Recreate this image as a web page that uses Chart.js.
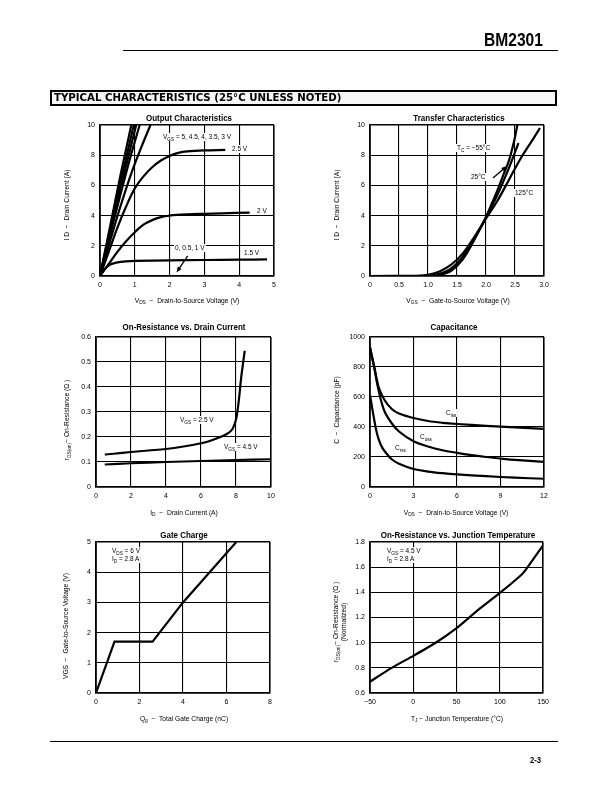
<!DOCTYPE html>
<html>
<head>
<meta charset="utf-8">
<script src="https://cdn.jsdelivr.net/npm/chart.js@4.4.1/dist/chart.umd.min.js"></script>
<style>
body { margin: 0; width: 612px; height: 792px; position: relative; background: #fff; color: #000;
       font-family: 'Liberation Sans', Arial, sans-serif; overflow: hidden; }
.abs { position: absolute; white-space: nowrap; filter: grayscale(100%); }
canvas { position: absolute; }
.t  { font-family: 'Liberation Sans', Arial, sans-serif; font-weight: bold;
      font-size: 9.5px; transform: translate(-50%, -50%) scaleX(0.84); }
.ax { font-size: 6.7px; transform: translate(-50%, -50%); }
.ay { font-size: 6.7px; transform: translate(-50%, -50%) rotate(-90deg); text-align: center; line-height: 8px; }
.lb { font-size: 6.5px; background: #fff; line-height: 8px; padding: 0 1px; transform: translateY(-50%); }
sub { font-size: 72%; vertical-align: -1.5px; line-height: 0; }
</style>
</head>
<body>

<!-- nagłówek strony -->
<div class="abs" style="left:484px;top:29px;font:bold 19px 'Liberation Sans',Arial;transform:scaleX(0.82);transform-origin:0 0;">BM2301</div>
<div class="abs" style="left:123px;top:50px;width:435px;height:1px;background:#000;"></div>
<div class="abs" style="left:50px;top:90px;width:503px;height:12px;border:2px solid #000;background:#f6f6f6;"></div>
<div class="abs" style="left:54px;top:92px;font:bold 10.2px 'DejaVu Sans',sans-serif;line-height:12px;">TYPICAL CHARACTERISTICS (25°C UNLESS NOTED)</div>
<div class="abs" style="left:50px;top:741px;width:508px;height:1px;background:#000;"></div>
<div class="abs" style="left:530px;top:755px;font:bold 9px 'Liberation Sans',Arial;transform:scaleX(0.85);transform-origin:0 0;">2-3</div>

<canvas id="c1"></canvas><canvas id="c2"></canvas><canvas id="c3"></canvas>
<canvas id="c4"></canvas><canvas id="c5"></canvas><canvas id="c6"></canvas>

<!-- tytuły wykresów -->
<div class="abs t" style="left:189px;top:117px;">Output Characteristics</div>
<div class="abs t" style="left:459px;top:117px;">Transfer Characteristics</div>
<div class="abs t" style="left:184px;top:326px;">On-Resistance vs. Drain Current</div>
<div class="abs t" style="left:454px;top:326px;">Capacitance</div>
<div class="abs t" style="left:184px;top:534px;">Gate Charge</div>
<div class="abs t" style="left:458px;top:534px;">On-Resistance vs. Junction Temperature</div>

<!-- opisy osi -->
<div class="abs ax" style="left:187px;top:300px;">V<sub>DS</sub> &nbsp;−&nbsp; Drain-to-Source Voltage (V)</div>
<div class="abs ax" style="left:458px;top:300px;">V<sub>GS</sub> &nbsp;−&nbsp; Gate-to-Source Voltage (V)</div>
<div class="abs ax" style="left:184px;top:512px;">I<sub>D</sub> &nbsp;−&nbsp; Drain Current (A)</div>
<div class="abs ax" style="left:456px;top:512px;">V<sub>DS</sub> &nbsp;−&nbsp; Drain-to-Source Voltage (V)</div>
<div class="abs ax" style="left:184px;top:718px;">Q<sub>g</sub> &nbsp;−&nbsp; Total Gate Charge (nC)</div>
<div class="abs ax" style="left:457px;top:718px;">T<sub>J</sub> − Junction Temperature (°C)</div>

<div class="abs ay" style="left:67px;top:205px;">I D &nbsp;−&nbsp; Drain Current (A)</div>
<div class="abs ay" style="left:337px;top:205px;">I D &nbsp;−&nbsp; Drain Current (A)</div>
<div class="abs ay" style="left:67px;top:420px;">r<sub>DS(on)</sub>− On-Resistance (Ω )</div>
<div class="abs ay" style="left:337px;top:410px;">C &nbsp;−&nbsp; Capacitance (pF)</div>
<div class="abs ay" style="left:66px;top:626px;">VGS &nbsp;−&nbsp; Gate-to-Source Voltage (V)</div>
<div class="abs ay" style="left:340px;top:622px;">r<sub>DS(on)</sub>− On-Resistance (Ω )<br>(Normalized)</div>

<!-- etykiety krzywych -->
<div class="abs lb" style="left:162px;top:137px;">V<sub>GS</sub> = 5, 4.5, 4, 3.5, 3 V</div>
<div class="abs lb" style="left:231px;top:149px;">2.5 V</div>
<div class="abs lb" style="left:256px;top:211px;">2 V</div>
<div class="abs lb" style="left:174px;top:248px;">0, 0.5, 1 V</div>
<div class="abs lb" style="left:243px;top:253px;">1.5 V</div>

<div class="abs lb" style="left:456px;top:148px;">T<sub>C</sub> = −55°C</div>
<div class="abs lb" style="left:470px;top:177px;">25°C</div>
<div class="abs lb" style="left:514px;top:193px;">125°C</div>

<div class="abs lb" style="left:179px;top:420px;">V<sub>GS</sub> = 2.5 V</div>
<div class="abs lb" style="left:223px;top:447px;">V<sub>GS</sub> = 4.5 V</div>

<div class="abs lb" style="left:445px;top:413px;">C<sub>iss</sub></div>
<div class="abs lb" style="left:419px;top:437px;">C<sub>oss</sub></div>
<div class="abs lb" style="left:394px;top:448px;">C<sub>rss</sub></div>

<div class="abs lb" style="left:111px;top:551px;">V<sub>DS</sub> = 6 V</div>
<div class="abs lb" style="left:111px;top:559px;">I<sub>D</sub> = 2.8 A</div>
<div class="abs lb" style="left:386px;top:551px;">V<sub>GS</sub> = 4.5 V</div>
<div class="abs lb" style="left:386px;top:559px;">I<sub>D</sub> = 2.8 A</div>

<script>
// Output Characteristics: I_D (A) w funkcji V_DS (V) dla kolejnych V_GS
const outX5 = [0, 0.3, 0.6, 0.9];                 const outY5 = [0, 3.4, 6.8, 10];
const outX45 = [0, 0.3, 0.6, 0.97];               const outY45 = [0, 3.2, 6.3, 10];
const outX4 = [0, 0.3, 0.6, 1.04];                const outY4 = [0, 3.0, 5.9, 10];
const outX35 = [0, 0.3, 0.6, 0.9, 1.14];          const outY35 = [0, 2.8, 5.5, 8.1, 10];
const outX3 = [0, 0.3, 0.6, 0.9, 1.2, 1.45];      const outY3 = [0, 2.4, 4.7, 6.8, 8.6, 10];
const outX25 = [0, 0.25, 0.5, 0.75, 1.0, 1.25, 1.5, 1.75, 2.0, 2.25, 2.5, 3.0, 3.6];
const outY25 = [0, 1.6, 3.2, 4.6, 5.8, 6.6, 7.2, 7.65, 7.95, 8.15, 8.25, 8.32, 8.35];
const outX2 = [0, 0.25, 0.5, 0.75, 1.0, 1.25, 1.5, 1.75, 2.0, 2.5, 3.0, 3.5, 4.3];
const outY2 = [0, 0.8, 1.6, 2.3, 2.9, 3.4, 3.7, 3.9, 4.0, 4.08, 4.12, 4.15, 4.2];
const outX15 = [0, 0.1, 0.2, 0.3, 0.5, 0.75, 1.0, 2.0, 3.0, 4.0, 4.8];
const outY15 = [0, 0.35, 0.6, 0.77, 0.9, 0.97, 1.0, 1.03, 1.06, 1.08, 1.1];
const outX0 = [0, 5];                             const outY0 = [0, 0];
const outArrow = [2.52, 1.34, 2.2, 0.24];

// Transfer Characteristics: I_D (A) w funkcji V_GS (V)
const trX55 = [0, 0.8, 1.0, 1.2, 1.4, 1.6, 1.8, 2.0, 2.1, 2.2, 2.3, 2.4, 2.5, 2.54];
const trY55 = [0, 0, 0.01, 0.08, 0.35, 1.1, 2.4, 3.9, 4.8, 5.7, 6.7, 7.7, 9.2, 10];
const trX25 = [0, 0.8, 1.0, 1.2, 1.4, 1.6, 1.8, 2.0, 2.2, 2.4, 2.56];
const trY25 = [0, 0, 0.03, 0.15, 0.5, 1.3, 2.5, 3.9, 5.4, 7.2, 8.8];
const trX125 = [0, 0.8, 1.0, 1.2, 1.4, 1.6, 1.8, 2.0, 2.2, 2.4, 2.6, 2.8, 2.93];
const trY125 = [0, 0.01, 0.08, 0.3, 0.75, 1.5, 2.6, 3.8, 5.0, 6.4, 7.8, 9.0, 9.8];
const trArrow = [2.12, 6.49, 2.36, 7.28];

// On-Resistance vs. Drain Current: r_DS(on) (Ω) w funkcji I_D (A)
const ronX25 = [0.5, 1, 2, 3, 4, 5, 6, 6.5, 7, 7.5, 7.8, 8.0, 8.15, 8.3, 8.5];
const ronY25 = [0.13, 0.133, 0.14, 0.146, 0.152, 0.162, 0.175, 0.184, 0.197, 0.213, 0.232, 0.27, 0.34, 0.44, 0.545];
const ronX45 = [0.5, 2, 4, 6, 8, 10];
const ronY45 = [0.09, 0.095, 0.1, 0.104, 0.108, 0.111];

// Capacitance: C (pF) w funkcji V_DS (V)
const capXiss = [0, 0.3, 0.6, 1, 1.5, 2, 3, 4, 5, 6, 8, 10, 12];
const capYiss = [930, 800, 665, 580, 520, 490, 460, 440, 428, 420, 408, 397, 388];
const capXoss = [0, 0.3, 0.6, 1, 1.5, 2, 3, 4, 5, 6, 7, 8, 9, 10, 12];
const capYoss = [930, 790, 640, 505, 425, 370, 305, 270, 245, 228, 213, 200, 190, 181, 168];
const capXrss = [0, 0.25, 0.5, 0.75, 1, 1.5, 2, 3, 4, 5, 6, 8, 10, 12];
const capYrss = [614, 470, 350, 280, 240, 185, 155, 120, 103, 92, 84, 72, 62, 55];

// Gate Charge: V_GS (V) w funkcji Q_g (nC)
const gcX = [0, 0.85, 2.6, 4.0, 6.45];
const gcY = [0, 1.7, 1.7, 3.0, 5.0];

// On-Resistance vs. Junction Temperature (znormalizowana)
const tjX = [-50, -25, 0, 25, 50, 75, 100, 125, 130, 150];
const tjY = [0.69, 0.8, 0.895, 0.995, 1.115, 1.26, 1.395, 1.54, 1.58, 1.775];

const FONT = "'Liberation Sans', Arial, sans-serif";

// Rysowanie strzałek opisowych (współrzędne w jednostkach danych)
const arrowPlugin = {
    id: 'arrowNote',
    afterDatasetsDraw(chart, args, opts) {
        const ctx = chart.ctx;
        (opts.list || []).forEach(a => {
            const x1 = chart.scales.x.getPixelForValue(a[0]);
            const y1 = chart.scales.y.getPixelForValue(a[1]);
            const x2 = chart.scales.x.getPixelForValue(a[2]);
            const y2 = chart.scales.y.getPixelForValue(a[3]);
            const ang = Math.atan2(y2 - y1, x2 - x1);
            ctx.save();
            ctx.strokeStyle = '#000';
            ctx.fillStyle = '#000';
            ctx.lineWidth = 1.3;
            ctx.beginPath();
            ctx.moveTo(x1, y1);
            ctx.lineTo(x2 - 4 * Math.cos(ang), y2 - 4 * Math.sin(ang));
            ctx.stroke();
            ctx.beginPath();
            ctx.moveTo(x2, y2);
            ctx.lineTo(x2 - 6 * Math.cos(ang - 0.4), y2 - 6 * Math.sin(ang - 0.4));
            ctx.lineTo(x2 - 6 * Math.cos(ang + 0.4), y2 - 6 * Math.sin(ang + 0.4));
            ctx.closePath();
            ctx.fill();
            ctx.restore();
        });
    }
};

function series(xs, ys, tension) {
    return {
        data: xs.map((x, i) => ({ x: x, y: ys[i] })),
        showLine: true,
        borderColor: '#000',
        borderWidth: 2.2,
        pointRadius: 0,
        fill: false,
        tension: tension === undefined ? 0.35 : tension
    };
}

function axis(min, max, step, fit, cb) {
    return {
        type: 'linear',
        min: min,
        max: max,
        ticks: {
            stepSize: step,
            color: '#000',
            padding: 5,
            font: { family: FONT, size: 7 },
            callback: cb || (v => String(v).replace('-', '\u2212'))
        },
        grid: {
            color: '#000',
            drawTicks: false,
            lineWidth: c => (c.tick && (c.tick.value === min || c.tick.value === max)) ? 1.6 : 1.1
        },
        border: { color: '#000', width: 1.6 },
        afterFit: fit === 'x' ? (s => { s.height = 20; }) : (s => { s.width = 40; })
    };
}

// Tworzenie wykresu w zadanym obszarze strony (l, t = lewy górny róg pola wykresu)
function makeChart(id, l, t, w, h, xAxis, yAxis, datasets, arrows) {
    const cv = document.getElementById(id);
    cv.width = w + 50;
    cv.height = h + 30;
    cv.style.left = (l - 40) + 'px';
    cv.style.top = (t - 10) + 'px';
    return new Chart(cv, {
        type: 'scatter',
        data: { datasets: datasets },
        options: {
            responsive: false,
            animation: false,
            layout: { padding: { left: 0, top: 10, right: 10, bottom: 0 } },
            scales: { x: xAxis, y: yAxis },
            plugins: {
                legend: { display: false },
                tooltip: { enabled: false },
                arrowNote: { list: arrows || [] }
            }
        },
        plugins: [arrowPlugin]
    });
}

makeChart('c1', 100, 125, 174, 151,
    axis(0, 5, 1, 'x'), axis(0, 10, 2, 'y'),
    [series(outX5, outY5, 0.2), series(outX45, outY45, 0.2), series(outX4, outY4, 0.2),
     series(outX35, outY35, 0.2), series(outX3, outY3), series(outX25, outY25),
     series(outX2, outY2), series(outX15, outY15), series(outX0, outY0, 0)],
    [outArrow]);

makeChart('c2', 370, 125, 174, 151,
    axis(0, 3, 0.5, 'x', v => v === 0 ? '0' : v.toFixed(1)), axis(0, 10, 2, 'y'),
    [series(trX55, trY55), series(trX25, trY25), series(trX125, trY125)],
    [trArrow]);

makeChart('c3', 96, 337, 175, 150,
    axis(0, 10, 2, 'x'), axis(0, 0.6, 0.1, 'y', v => v === 0 ? '0' : v.toFixed(1)),
    [series(ronX25, ronY25), series(ronX45, ronY45)]);

makeChart('c4', 370, 337, 174, 150,
    axis(0, 12, 3, 'x'), axis(0, 1000, 200, 'y', v => String(v)),
    [series(capXiss, capYiss), series(capXoss, capYoss), series(capXrss, capYrss)]);

makeChart('c5', 96, 542, 174, 151,
    axis(0, 8, 2, 'x'), axis(0, 5, 1, 'y'),
    [series(gcX, gcY, 0)]);

makeChart('c6', 370, 542, 174, 151,
    axis(-50, 150, 50, 'x'), axis(0.6, 1.8, 0.2, 'y', v => v.toFixed(1)),
    [series(tjX, tjY, 0.2)]);
</script>
</body>
</html>
